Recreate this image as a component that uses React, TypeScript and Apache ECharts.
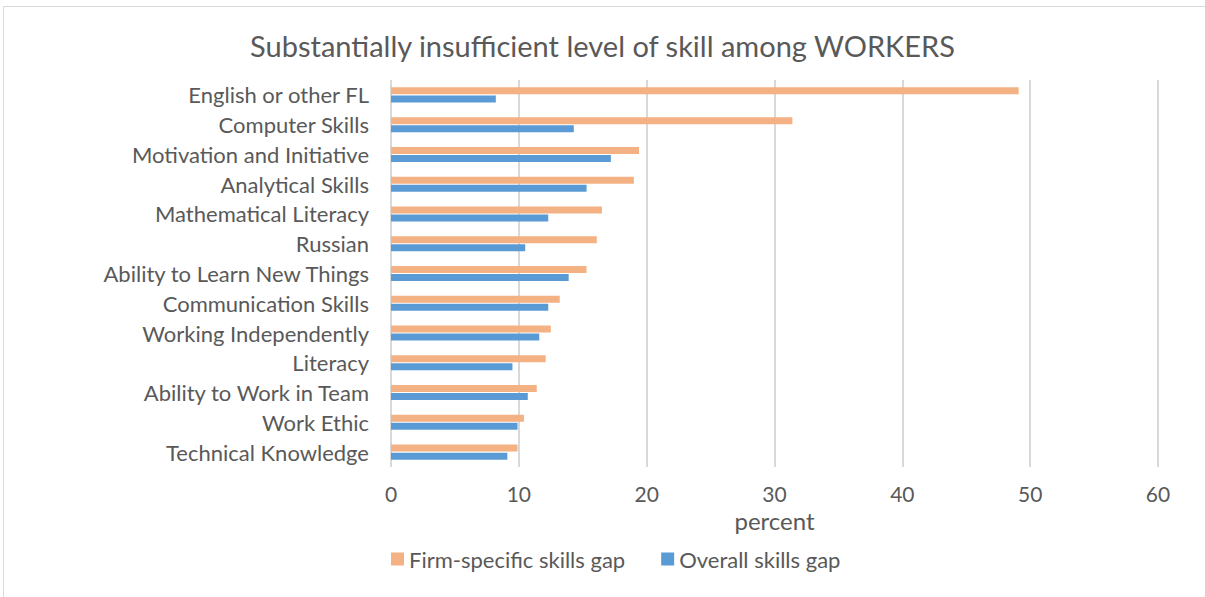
import React, { useEffect, useRef } from "react";
import * as echarts from "echarts";

const categories = [
  "English or other FL",
  "Computer Skills",
  "Motivation and Initiative",
  "Analytical Skills",
  "Mathematical Literacy",
  "Russian",
  "Ability to Learn New Things",
  "Communication Skills",
  "Working Independently",
  "Literacy",
  "Ability to Work in Team",
  "Work Ethic",
  "Technical Knowledge",
];
const firmSpecific = [49.1, 31.4, 19.4, 19.0, 16.5, 16.1, 15.3, 13.2, 12.5, 12.1, 11.4, 10.4, 9.9];
const overall = [8.2, 14.3, 17.2, 15.3, 12.3, 10.5, 13.9, 12.3, 11.6, 9.5, 10.7, 9.9, 9.1];
const xTicks = [0, 10, 20, 30, 40, 50, 60];

const FONT = "Lato, 'Open Sans', sans-serif";
const TEXT = "#595959";

export default function App() {
  const ref = useRef<HTMLDivElement>(null);
  useEffect(() => {
    document.body.style.margin = "0";
    const chart = echarts.init(ref.current!, null, { renderer: "svg" });
    chart.setOption({
      animation: false,
      backgroundColor: "#ffffff",
      textStyle: { fontFamily: FONT, color: TEXT },
      title: {
        text: "Substantially insufficient level of skill among WORKERS",
        left: "center",
        top: 26,
        textStyle: { fontFamily: FONT, fontSize: 29, fontWeight: "normal", color: TEXT },
      },
      graphic: [
        {
          type: "rect",
          shape: { x: 3.5, y: 6.5, width: 1210, height: 600 },
          style: { fill: "none", stroke: "#d9d9d9", lineWidth: 1 },
          silent: true,
        },
      ],
      legend: {
        left: 386,
        top: 543,
        itemWidth: 13,
        itemHeight: 13,
        itemGap: 36,
        icon: "rect",
        textStyle: { fontFamily: FONT, fontSize: 22, color: TEXT },
        data: ["Firm-specific skills gap", "Overall skills gap"],
      },
      grid: { left: 391, right: 47, top: 80, bottom: 130, containLabel: false },
      xAxis: {
        type: "value",
        min: xTicks[0],
        max: xTicks[xTicks.length - 1],
        interval: 10,
        name: "percent",
        nameLocation: "middle",
        nameGap: 36,
        nameTextStyle: { fontFamily: FONT, fontSize: 24, color: TEXT },
        axisLine: { show: false },
        axisTick: { show: false },
        axisLabel: { fontFamily: FONT, fontSize: 21, color: TEXT, margin: 16 },
        splitLine: { show: true, lineStyle: { color: "#d9d9d9", width: 2 } },
      },
      yAxis: {
        type: "category",
        data: categories,
        inverse: true,
        axisLine: { show: false },
        axisTick: { show: false },
        axisLabel: { fontFamily: FONT, fontSize: 22, color: TEXT, margin: 22 },
      },
      series: [
        {
          name: "Firm-specific skills gap",
          type: "bar",
          data: firmSpecific,
          barWidth: 7,
          barGap: "15%",
          itemStyle: { color: "#f4b183" },
        },
        {
          name: "Overall skills gap",
          type: "bar",
          data: overall,
          barWidth: 7,
          barGap: "15%",
          itemStyle: { color: "#5b9bd5" },
        },
      ],
    });
    return () => chart.dispose();
  }, []);
  return (
    <div
      ref={ref}
      style={{ position: "absolute", left: 0, top: 0, width: 1205, height: 597 }}
    />
  );
}
